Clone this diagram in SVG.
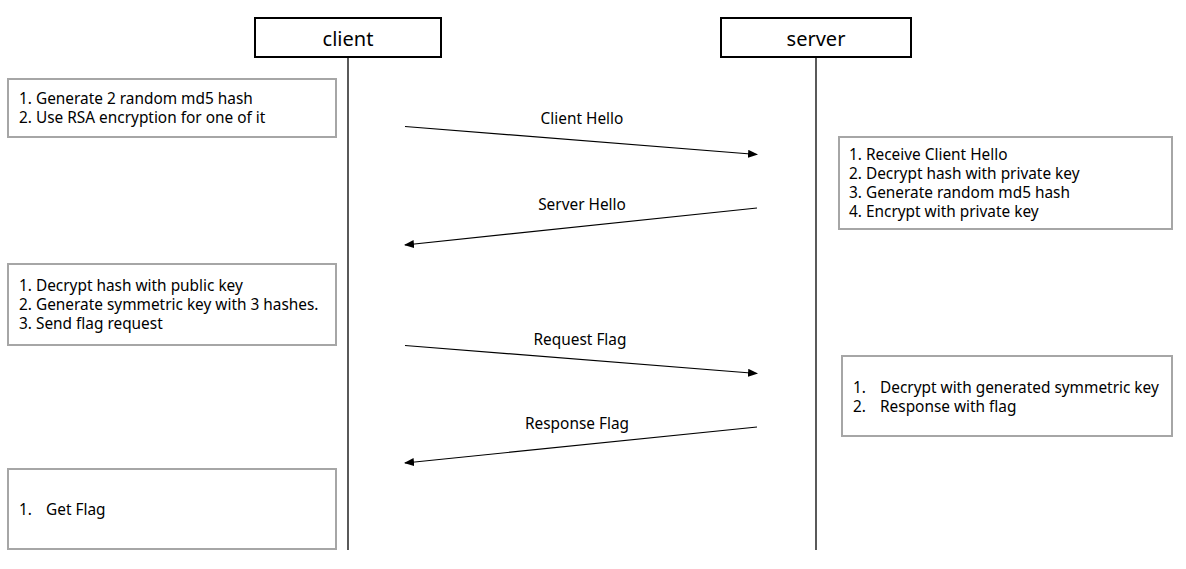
<svg xmlns="http://www.w3.org/2000/svg" width="1186" height="569" viewBox="0 0 1186 569">
<defs>
<marker id="arr" markerWidth="10" markerHeight="8" refX="9" refY="4" orient="auto" markerUnits="userSpaceOnUse">
<path d="M0,0 L10,4 L0,8 Z" fill="#000"/>
</marker>
<style>
.actor{fill:#fff;stroke:#000;stroke-width:2}
.note{fill:#fff;stroke:#a6a6a6;stroke-width:2}
.life{stroke:#000;stroke-width:1.3;fill:none}
.msg{stroke:#000;stroke-width:1.2;fill:none;marker-end:url(#arr)}
text{font-family:"Noto Sans","Open Sans","DejaVu Sans",sans-serif;fill:#000}
.t{font-size:15.4px}
.h{font-size:20px;text-anchor:middle}
.lbl{font-size:15.4px;text-anchor:middle}
</style>
</defs>
<rect width="1186" height="569" fill="#fff"/>
<g id="client">
<rect class="actor" x="255" y="18" width="186" height="39"/>
<text class="h" x="348" y="46">client</text>
<line class="life" x1="348" y1="57" x2="348" y2="550"/>
</g>
<g id="server">
<rect class="actor" x="721" y="18" width="190" height="39"/>
<text class="h" x="816" y="46">server</text>
<line class="life" x1="816" y1="57" x2="816" y2="550"/>
</g>
<g id="note1">
<rect class="note" x="8" y="79" width="328" height="58"/>
<text class="t" x="19" y="104">1. Generate 2 random md5 hash</text>
<text class="t" x="19" y="123">2. Use RSA encryption for one of it</text>
</g>
<g id="note2">
<rect class="note" x="839" y="137" width="333" height="92"/>
<text class="t" x="849" y="160">1. Receive Client Hello</text>
<text class="t" x="849" y="179">2. Decrypt hash with private key</text>
<text class="t" x="849" y="198">3. Generate random md5 hash</text>
<text class="t" x="849" y="217">4. Encrypt with private key</text>
</g>
<g id="note3">
<rect class="note" x="8" y="264" width="328" height="81"/>
<text class="t" x="19" y="291">1. Decrypt hash with public key</text>
<text class="t" x="19" y="310">2. Generate symmetric key with 3 hashes.</text>
<text class="t" x="19" y="329">3. Send flag request</text>
</g>
<g id="note4">
<rect class="note" x="842" y="356" width="330" height="80"/>
<text class="t" x="853" y="393">1.</text>
<text class="t" x="880" y="393">Decrypt with generated symmetric key</text>
<text class="t" x="853" y="412">2.</text>
<text class="t" x="880" y="412">Response with flag</text>
</g>
<g id="note5">
<rect class="note" x="8" y="469" width="328" height="80"/>
<text class="t" x="19" y="515">1.</text>
<text class="t" x="46" y="515">Get Flag</text>
</g>
<g id="connectors">
<line class="msg" x1="405" y1="126.5" x2="757" y2="154.5"/>
<line class="msg" x1="757" y1="208" x2="405" y2="245"/>
<line class="msg" x1="405" y1="345.5" x2="757" y2="373.5"/>
<line class="msg" x1="757" y1="427" x2="405" y2="463"/>
<text class="lbl" x="582" y="124">Client Hello</text>
<text class="lbl" x="582" y="210">Server Hello</text>
<text class="lbl" x="580" y="345">Request Flag</text>
<text class="lbl" x="577" y="429">Response Flag</text>
</g>
</svg>
